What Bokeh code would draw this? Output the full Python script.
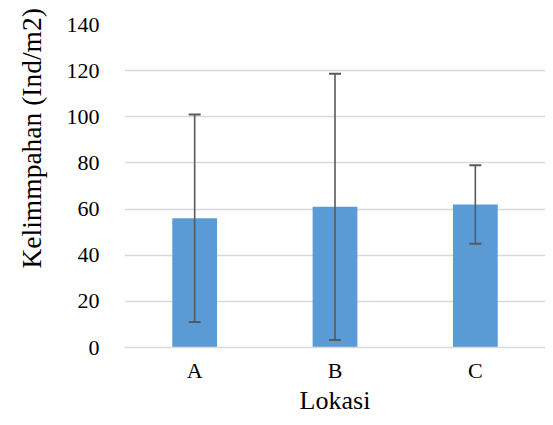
from bokeh.plotting import figure
from bokeh.models import (ColumnDataSource, Whisker, TeeHead, Title,
                          SingleIntervalTicker, Range1d)
from bokeh.embed import file_html
from bokeh.resources import INLINE

lokasi = ["A", "B", "C"]
kelimpahan = [56, 61, 62]
galat = [45, 57.7, 17]

FONT = "Liberation Serif"

lower = [v - e for v, e in zip(kelimpahan, galat)]
upper = [v + e for v, e in zip(kelimpahan, galat)]
src = ColumnDataSource(dict(x=lokasi, top=kelimpahan, lower=lower, upper=upper))

p = figure(x_range=lokasi, y_range=Range1d(0, 140), width=545, height=417,
           output_backend="svg", toolbar_location=None,
           min_border_left=122, min_border_right=0, min_border_top=24, min_border_bottom=70)
p.outline_line_color = None
p.x_range.range_padding = 0

p.vbar(x="x", top="top", width=0.319, source=src, fill_color="#5B9BD5", line_color=None)

w = Whisker(base="x", lower="lower", upper="upper", source=src, level="overlay",
            line_color="#595959", line_width=1.6,
            upper_head=TeeHead(size=12, line_color="#595959", line_width=2),
            lower_head=TeeHead(size=12, line_color="#595959", line_width=2))
p.add_layout(w)

p.yaxis.ticker = SingleIntervalTicker(interval=20)
p.ygrid.grid_line_color = "#d9d9d9"
p.ygrid.grid_line_width = 1.3
p.xgrid.grid_line_color = None

for ax in (p.xaxis, p.yaxis):
    ax.major_tick_line_color = None
    ax.minor_tick_line_color = None
    ax.major_tick_out = 0
    ax.major_tick_in = 0
    ax.major_label_text_font = FONT
    ax.major_label_text_font_size = "22px"
    ax.major_label_text_color = "black"
    ax.axis_label_text_font = FONT
    ax.axis_label_text_font_style = "normal"
    ax.axis_label_text_font_size = "26px"
    ax.axis_label_text_color = "black"

p.yaxis.axis_line_color = None
p.yaxis.major_label_standoff = 21
p.xaxis.axis_line_color = "#d9d9d9"
p.xaxis.axis_line_width = 1.3
p.xaxis.major_label_standoff = 10
p.xaxis.axis_label = "Lokasi"
p.xaxis.axis_label_standoff = 0

ytitle = Title(text="Kelimmpahan  (Ind/m2)", align="left", offset=79,
               vertical_align="top", standoff=30,
               text_font=FONT, text_font_size="27.5px", text_font_style="normal",
               text_color="black")
p.add_layout(ytitle, "left")

open("out.html", "w").write(file_html(p, INLINE))
